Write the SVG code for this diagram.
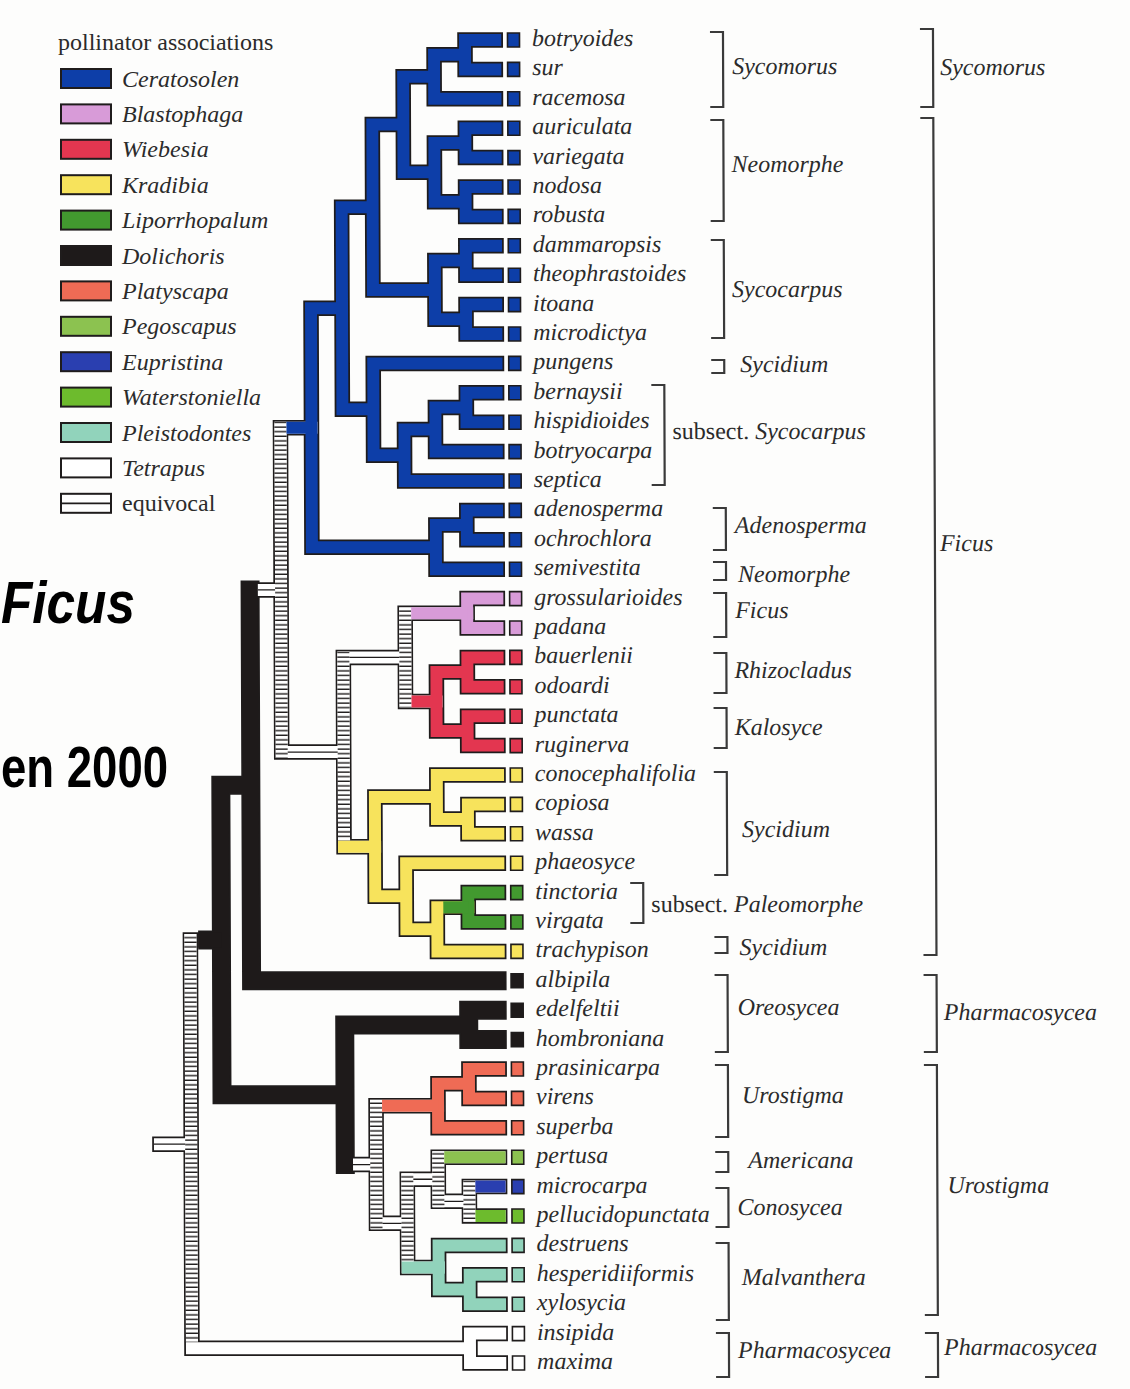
<svg xmlns="http://www.w3.org/2000/svg" width="1130" height="1389" viewBox="0 0 1130 1389">
<defs>
<pattern id="hatch" patternUnits="userSpaceOnUse" width="12" height="4.6">
<rect width="12" height="4.6" fill="#fff"/>
<rect y="3.2" width="12" height="1.4" fill="#1f1c1c"/>
</pattern>
</defs>
<style>
.o{fill:none;stroke:#1f1c1c;stroke-width:15.5;stroke-linecap:square;stroke-linejoin:miter}
.ob{fill:none;stroke:#1f1c1c;stroke-width:19;stroke-linecap:square;stroke-linejoin:miter}
.obb{fill:none;stroke:#1f1c1c;stroke-width:19;stroke-linecap:butt}
.f{fill:none;stroke-width:12;stroke-linecap:square;stroke-linejoin:miter}
.fb{fill:none;stroke:#1e1a1a;stroke-width:15.5;stroke-linecap:square;stroke-linejoin:miter}
.fbb{fill:none;stroke:#1e1a1a;stroke-width:15.5;stroke-linecap:butt}
.ov{fill:none;stroke-width:12;stroke-linecap:butt}
.mid{fill:none;stroke:#1f1c1c;stroke-width:1.3}
.hz{fill:url(#hatch)}
.w{stroke:#fff}
.s-ce{stroke:#0d3ea8}.s-bl{stroke:#d89bd8}.s-wi{stroke:#e33650}.s-kr{stroke:#f7e35c}.s-li{stroke:#42992f}
.s-pl{stroke:#ef6b55}.s-pe{stroke:#8cc250}.s-eu{stroke:#2a3fb0}.s-wa{stroke:#6dbb2d}.s-ps{stroke:#91d3bb}
.c-ce{fill:#0d3ea8}.c-bl{fill:#d89bd8}.c-wi{fill:#e33650}.c-kr{fill:#f7e35c}.c-li{fill:#42992f}.c-do{fill:#1e1a1a}
.c-pl{fill:#ef6b55}.c-pe{fill:#8cc250}.c-eu{fill:#2a3fb0}.c-wa{fill:#6dbb2d}.c-ps{fill:#91d3bb}.c-te{fill:#ffffff}
.bx{stroke:#1f1c1c;stroke-width:1.6}
.sw{stroke:#1f1c1c;stroke-width:2}
.sp,.lab,.lg{font-family:"Liberation Serif","Times New Roman",serif;font-style:italic;font-size:24px;fill:#2b2b2b}
.up{font-style:normal}
.br{fill:none;stroke:#3a3a3a;stroke-width:2.2}
.title{font-family:"Liberation Sans",Arial,sans-serif;font-weight:bold;fill:#000}
</style>
<rect width="1130" height="1389" fill="#fdfdfc"/>

<g id="legend">
<text class="lg up" x="58" y="50">pollinator associations</text>
<g id="lg-ceratosolen"><rect class="sw c-ce" x="61" y="69" width="50" height="19"/><text class="lg" x="122" y="86.5">Ceratosolen</text></g>
<g id="lg-blastophaga"><rect class="sw c-bl" x="61" y="104.4" width="50" height="19"/><text class="lg" x="122" y="121.9">Blastophaga</text></g>
<g id="lg-wiebesia"><rect class="sw c-wi" x="61" y="139.8" width="50" height="19"/><text class="lg" x="122" y="157.3">Wiebesia</text></g>
<g id="lg-kradibia"><rect class="sw c-kr" x="61" y="175.2" width="50" height="19"/><text class="lg" x="122" y="192.7">Kradibia</text></g>
<g id="lg-liporrhopalum"><rect class="sw c-li" x="61" y="210.6" width="50" height="19"/><text class="lg" x="122" y="228.1">Liporrhopalum</text></g>
<g id="lg-dolichoris"><rect class="sw c-do" x="61" y="246" width="50" height="19"/><text class="lg" x="122" y="263.5">Dolichoris</text></g>
<g id="lg-platyscapa"><rect class="sw c-pl" x="61" y="281.4" width="50" height="19"/><text class="lg" x="122" y="298.9">Platyscapa</text></g>
<g id="lg-pegoscapus"><rect class="sw c-pe" x="61" y="316.8" width="50" height="19"/><text class="lg" x="122" y="334.3">Pegoscapus</text></g>
<g id="lg-eupristina"><rect class="sw c-eu" x="61" y="352.2" width="50" height="19"/><text class="lg" x="122" y="369.7">Eupristina</text></g>
<g id="lg-waterstoniella"><rect class="sw c-wa" x="61" y="387.6" width="50" height="19"/><text class="lg" x="122" y="405.1">Waterstoniella</text></g>
<g id="lg-pleistodontes"><rect class="sw c-ps" x="61" y="423" width="50" height="19"/><text class="lg" x="122" y="440.5">Pleistodontes</text></g>
<g id="lg-tetrapus"><rect class="sw c-te" x="61" y="458.4" width="50" height="19"/><text class="lg" x="122" y="475.9">Tetrapus</text></g>
<g id="lg-equivocal"><rect class="sw c-te" x="61" y="493.8" width="50" height="19"/><path class="mid" d="M61 503.3H111" style="stroke-width:1.8"/><text class="lg up" x="122" y="511.3">equivocal</text></g>
</g>

<g id="title">
<text class="title" x="1" y="623" font-size="60" font-style="italic" textLength="134" lengthAdjust="spacingAndGlyphs">Ficus</text>
<text class="title" x="1" y="787" font-size="58" textLength="167" lengthAdjust="spacingAndGlyphs">en 2000</text>
</g>

<g id="figure" transform="matrix(1 0 0.0038 1 -0.15 0)">
<g id="connectors">
<g id="outlines">
<path class="o" d="M495.25 40H465V69.4H495.25M465 54.7H434V98.8H495.25M495.25 128.2H465V157.6H495.25M495.25 187H465V216.4H495.25M465 142.9H434V201.7H465M434 76.75H403V172.3H434M495.25 245.8H465V275.2H495.25M495.25 304.6H465V334H495.25M465 260.5H434V319.3H465M403 124.5H372V289.9H434M495.25 392.8H465V422.2H495.25M465 407.5H434V451.6H495.25M434 429.55H403V481H495.25M495.25 363.4H372V455.3H403M372 207.2H341V409.35H372M495.25 510.4H465V539.8H495.25M465 525.1H434V569.2H495.25M341 308.3H310V547.15H434M495.25 598.6H465V628H495.25M495.25 657.4H465V686.8H495.25M495.25 716.2H465V745.6H495.25M465 672.1H434V730.9H465M465 613.3H403V701.5H434M495.25 804.4H465V833.8H495.25M495.25 775H434V819.1H465M495.25 892.6H465V922H495.25M465 907.3H434V951.4H495.25M495.25 863.2H403V929.35H434M434 797.05H372V896.3H403M403 657.4H341V846.7H372M310 427.7H279V752.05H341M257.5 589.9H279M495.25 1069H465V1098.4H495.25M465 1083.7H434V1127.8H495.25M495.25 1186.6H465V1216H495.25M495.25 1157.2H434V1201.3H465M495.25 1274.8H465V1304.2H495.25M495.25 1245.4H434V1289.5H465M434 1179.25H403V1267.45H434M434 1105.75H372V1223.35H403M350 1164.55H372M495.25 1333.6H465V1363H495.25M187 940V1348.3H465M155.75 1144.15H187"/>
<path class="ob" d="M248 589.9V980.8H493.5M493.5 1010.2H465V1039.6H493.5M465 1024.9H341V1164.55M248 785.35H218V1094.7H341"/>
<path class="obb" d="M194.75 940H218"/>
</g>
<g id="fills">
<path class="f w" d="M465 613.3H403V701.5H434M403 657.4H341V846.7H372M310 427.7H279V752.05H341M257.5 589.9H279M495.25 1186.6H465V1216H495.25M495.25 1157.2H434V1201.3H465M434 1179.25H403V1267.45H434M434 1105.75H372V1223.35H403M350 1164.55H372M187 940V1348.3H465M155.75 1144.15H187M495.25 1333.6H465V1363H495.25"/>
<path class="f s-ce" d="M495.25 40H465V69.4H495.25M465 54.7H434V98.8H495.25M495.25 128.2H465V157.6H495.25M495.25 187H465V216.4H495.25M465 142.9H434V201.7H465M434 76.75H403V172.3H434M495.25 245.8H465V275.2H495.25M495.25 304.6H465V334H495.25M465 260.5H434V319.3H465M403 124.5H372V289.9H434M495.25 392.8H465V422.2H495.25M465 407.5H434V451.6H495.25M434 429.55H403V481H495.25M495.25 363.4H372V455.3H403M372 207.2H341V409.35H372M495.25 510.4H465V539.8H495.25M465 525.1H434V569.2H495.25M341 308.3H310V547.15H434"/>
<path class="f s-bl" d="M495.25 598.6H465V628H495.25"/>
<path class="f s-wi" d="M495.25 657.4H465V686.8H495.25M495.25 716.2H465V745.6H495.25M465 672.1H434V730.9H465"/>
<path class="f s-kr" d="M495.25 804.4H465V833.8H495.25M495.25 775H434V819.1H465M465 907.3H434V951.4H495.25M495.25 863.2H403V929.35H434M434 797.05H372V896.3H403"/>
<path class="f s-li" d="M495.25 892.6H465V922H495.25"/>
<path class="f s-pl" d="M495.25 1069H465V1098.4H495.25M465 1083.7H434V1127.8H495.25"/>
<path class="f s-ps" d="M495.25 1274.8H465V1304.2H495.25M495.25 1245.4H434V1289.5H465"/>
<path class="fb" d="M248 589.9V980.8H493.5M493.5 1010.2H465V1039.6H493.5M465 1024.9H341V1164.55M248 785.35H218V1094.7H341"/>
<path class="fbb" d="M194.75 940H218"/>
<g id="hatched">
<rect class="hz" x="273" y="421.7" width="12" height="336.35"/>
<rect class="hz" x="335" y="651.4" width="12" height="189.3"/>
<rect class="hz" x="397" y="607.3" width="12" height="100.2"/>
<rect class="hz" x="366" y="1099.75" width="12" height="129.6"/>
<rect class="hz" x="397" y="1173.25" width="12" height="88.2"/>
<rect class="hz" x="428" y="1151.2" width="12" height="56.1"/>
<rect class="hz" x="459" y="1180.6" width="12" height="41.4"/>
<rect class="hz" x="181" y="934" width="12" height="408.3"/>
<path class="mid" d="M347 657.4H397M285 752.05H335M255.75 589.9H273M348.75 1164.55H366M378 1223.35H397M409 1179.25H428M440 1201.3H459M149.75 1144.15H181"/>
</g>
<path class="ov s-bl" d="M409 613.3H465"/>
<path class="ov s-wi" d="M409 701.5H434"/>
<path class="ov s-ce" d="M285 427.7H310"/>
<path class="ov s-li" d="M440 907.3H465"/>
<path class="ov s-pl" d="M378 1105.75H434"/>
<path class="ov s-pe" d="M440 1157.2H501.25"/>
<path class="ov s-eu" d="M471 1186.6H501.25"/>
<path class="ov s-wa" d="M471 1216H501.25"/>
<path class="f s-kr" d="M341 846.7H372"/>
<path class="f s-ps" d="M403 1267.45H434"/>
</g>
</g>

<g id="taxa">
<g id="t-botryoides"><rect class="bx c-ce" x="507.5" y="33" width="12" height="14"/><text class="sp" x="532" y="46">botryoides</text></g>
<g id="t-sur"><rect class="bx c-ce" x="507.5" y="62.4" width="12" height="14"/><text class="sp" x="532" y="75.4">sur</text></g>
<g id="t-racemosa"><rect class="bx c-ce" x="507.5" y="91.8" width="12" height="14"/><text class="sp" x="532" y="104.8">racemosa</text></g>
<g id="t-auriculata"><rect class="bx c-ce" x="507.5" y="121.2" width="12" height="14"/><text class="sp" x="532" y="134.2">auriculata</text></g>
<g id="t-variegata"><rect class="bx c-ce" x="507.5" y="150.6" width="12" height="14"/><text class="sp" x="532" y="163.6">variegata</text></g>
<g id="t-nodosa"><rect class="bx c-ce" x="507.5" y="180" width="12" height="14"/><text class="sp" x="532" y="193">nodosa</text></g>
<g id="t-robusta"><rect class="bx c-ce" x="507.5" y="209.4" width="12" height="14"/><text class="sp" x="532" y="222.4">robusta</text></g>
<g id="t-dammaropsis"><rect class="bx c-ce" x="507.5" y="238.8" width="12" height="14"/><text class="sp" x="532" y="251.8">dammaropsis</text></g>
<g id="t-theophrastoides"><rect class="bx c-ce" x="507.5" y="268.2" width="12" height="14"/><text class="sp" x="532" y="281.2">theophrastoides</text></g>
<g id="t-itoana"><rect class="bx c-ce" x="507.5" y="297.6" width="12" height="14"/><text class="sp" x="532" y="310.6">itoana</text></g>
<g id="t-microdictya"><rect class="bx c-ce" x="507.5" y="327" width="12" height="14"/><text class="sp" x="532" y="340">microdictya</text></g>
<g id="t-pungens"><rect class="bx c-ce" x="507.5" y="356.4" width="12" height="14"/><text class="sp" x="532" y="369.4">pungens</text></g>
<g id="t-bernaysii"><rect class="bx c-ce" x="507.5" y="385.8" width="12" height="14"/><text class="sp" x="532" y="398.8">bernaysii</text></g>
<g id="t-hispidioides"><rect class="bx c-ce" x="507.5" y="415.2" width="12" height="14"/><text class="sp" x="532" y="428.2">hispidioides</text></g>
<g id="t-botryocarpa"><rect class="bx c-ce" x="507.5" y="444.6" width="12" height="14"/><text class="sp" x="532" y="457.6">botryocarpa</text></g>
<g id="t-septica"><rect class="bx c-ce" x="507.5" y="474" width="12" height="14"/><text class="sp" x="532" y="487">septica</text></g>
<g id="t-adenosperma"><rect class="bx c-ce" x="507.5" y="503.4" width="12" height="14"/><text class="sp" x="532" y="516.4">adenosperma</text></g>
<g id="t-ochrochlora"><rect class="bx c-ce" x="507.5" y="532.8" width="12" height="14"/><text class="sp" x="532" y="545.8">ochrochlora</text></g>
<g id="t-semivestita"><rect class="bx c-ce" x="507.5" y="562.2" width="12" height="14"/><text class="sp" x="532" y="575.2">semivestita</text></g>
<g id="t-grossularioides"><rect class="bx c-bl" x="507.5" y="591.6" width="12" height="14"/><text class="sp" x="532" y="604.6">grossularioides</text></g>
<g id="t-padana"><rect class="bx c-bl" x="507.5" y="621" width="12" height="14"/><text class="sp" x="532" y="634">padana</text></g>
<g id="t-bauerlenii"><rect class="bx c-wi" x="507.5" y="650.4" width="12" height="14"/><text class="sp" x="532" y="663.4">bauerlenii</text></g>
<g id="t-odoardi"><rect class="bx c-wi" x="507.5" y="679.8" width="12" height="14"/><text class="sp" x="532" y="692.8">odoardi</text></g>
<g id="t-punctata"><rect class="bx c-wi" x="507.5" y="709.2" width="12" height="14"/><text class="sp" x="532" y="722.2">punctata</text></g>
<g id="t-ruginerva"><rect class="bx c-wi" x="507.5" y="738.6" width="12" height="14"/><text class="sp" x="532" y="751.6">ruginerva</text></g>
<g id="t-conocephalifolia"><rect class="bx c-kr" x="507.5" y="768" width="12" height="14"/><text class="sp" x="532" y="781">conocephalifolia</text></g>
<g id="t-copiosa"><rect class="bx c-kr" x="507.5" y="797.4" width="12" height="14"/><text class="sp" x="532" y="810.4">copiosa</text></g>
<g id="t-wassa"><rect class="bx c-kr" x="507.5" y="826.8" width="12" height="14"/><text class="sp" x="532" y="839.8">wassa</text></g>
<g id="t-phaeosyce"><rect class="bx c-kr" x="507.5" y="856.2" width="12" height="14"/><text class="sp" x="532" y="869.2">phaeosyce</text></g>
<g id="t-tinctoria"><rect class="bx c-li" x="507.5" y="885.6" width="12" height="14"/><text class="sp" x="532" y="898.6">tinctoria</text></g>
<g id="t-virgata"><rect class="bx c-li" x="507.5" y="915" width="12" height="14"/><text class="sp" x="532" y="928">virgata</text></g>
<g id="t-trachypison"><rect class="bx c-kr" x="507.5" y="944.4" width="12" height="14"/><text class="sp" x="532" y="957.4">trachypison</text></g>
<g id="t-albipila"><rect class="bx c-do" x="507.5" y="973.8" width="12" height="14"/><text class="sp" x="532" y="986.8">albipila</text></g>
<g id="t-edelfeltii"><rect class="bx c-do" x="507.5" y="1003.2" width="12" height="14"/><text class="sp" x="532" y="1016.2">edelfeltii</text></g>
<g id="t-hombroniana"><rect class="bx c-do" x="507.5" y="1032.6" width="12" height="14"/><text class="sp" x="532" y="1045.6">hombroniana</text></g>
<g id="t-prasinicarpa"><rect class="bx c-pl" x="507.5" y="1062" width="12" height="14"/><text class="sp" x="532" y="1075">prasinicarpa</text></g>
<g id="t-virens"><rect class="bx c-pl" x="507.5" y="1091.4" width="12" height="14"/><text class="sp" x="532" y="1104.4">virens</text></g>
<g id="t-superba"><rect class="bx c-pl" x="507.5" y="1120.8" width="12" height="14"/><text class="sp" x="532" y="1133.8">superba</text></g>
<g id="t-pertusa"><rect class="bx c-pe" x="507.5" y="1150.2" width="12" height="14"/><text class="sp" x="532" y="1163.2">pertusa</text></g>
<g id="t-microcarpa"><rect class="bx c-eu" x="507.5" y="1179.6" width="12" height="14"/><text class="sp" x="532" y="1192.6">microcarpa</text></g>
<g id="t-pellucidopunctata"><rect class="bx c-wa" x="507.5" y="1209" width="12" height="14"/><text class="sp" x="532" y="1222">pellucidopunctata</text></g>
<g id="t-destruens"><rect class="bx c-ps" x="507.5" y="1238.4" width="12" height="14"/><text class="sp" x="532" y="1251.4">destruens</text></g>
<g id="t-hesperidiiformis"><rect class="bx c-ps" x="507.5" y="1267.8" width="12" height="14"/><text class="sp" x="532" y="1280.8">hesperidiiformis</text></g>
<g id="t-xylosycia"><rect class="bx c-ps" x="507.5" y="1297.2" width="12" height="14"/><text class="sp" x="532" y="1310.2">xylosycia</text></g>
<g id="t-insipida"><rect class="bx c-te" x="507.5" y="1326.6" width="12" height="14"/><text class="sp" x="532" y="1339.6">insipida</text></g>
<g id="t-maxima"><rect class="bx c-te" x="507.5" y="1356" width="12" height="14"/><text class="sp" x="532" y="1369">maxima</text></g>
</g>

<g id="sections">
<g id="s-sycomorus"><path class="br" d="M710 32H723V107H710"/><text class="lab" x="732" y="74">Sycomorus</text></g>
<g id="s-neomorphe1"><path class="br" d="M710 120H723V221H710"/><text class="lab" x="731" y="172">Neomorphe</text></g>
<g id="s-sycocarpus"><path class="br" d="M710 240H723V338H710"/><text class="lab" x="731" y="297">Sycocarpus</text></g>
<g id="s-sycidium1"><path class="br" d="M710 360H723V373H710"/><text class="lab" x="739" y="372">Sycidium</text></g>
<g id="s-subsect-sycocarpus"><path class="br" d="M650 385H663V485H650"/><text class="lab" x="671" y="439"><tspan class="up">subsect.</tspan> Sycocarpus</text></g>
<g id="s-adenosperma"><path class="br" d="M711 508H724V550H711"/><text class="lab" x="733" y="533">Adenosperma</text></g>
<g id="s-neomorphe2"><path class="br" d="M711 562H724V580H711"/><text class="lab" x="736" y="582">Neomorphe</text></g>
<g id="s-ficus"><path class="br" d="M711 593H724V637H711"/><text class="lab" x="733" y="618">Ficus</text></g>
<g id="s-rhizocladus"><path class="br" d="M711 653H724V693H711"/><text class="lab" x="732" y="678">Rhizocladus</text></g>
<g id="s-kalosyce"><path class="br" d="M711 708H724V748H711"/><text class="lab" x="732" y="735">Kalosyce</text></g>
<g id="s-sycidium2"><path class="br" d="M711 772H724V875H711"/><text class="lab" x="739" y="837">Sycidium</text></g>
<g id="s-subsect-paleomorphe"><path class="br" d="M627 883H640V923H627"/><text class="lab" x="648" y="912"><tspan class="up">subsect.</tspan> Paleomorphe</text></g>
<g id="s-sycidium3"><path class="br" d="M711 937H724V953H711"/><text class="lab" x="736" y="955">Sycidium</text></g>
<g id="s-oreosycea"><path class="br" d="M711 975H724V1052H711"/><text class="lab" x="734" y="1015">Oreosycea</text></g>
<g id="s-urostigma"><path class="br" d="M711 1065H724V1137H711"/><text class="lab" x="738" y="1103">Urostigma</text></g>
<g id="s-americana"><path class="br" d="M711 1152H724V1172H711"/><text class="lab" x="744" y="1168">Americana</text></g>
<g id="s-conosycea"><path class="br" d="M711 1188H724V1227H711"/><text class="lab" x="733" y="1215">Conosycea</text></g>
<g id="s-malvanthera"><path class="br" d="M711 1243H724V1320H711"/><text class="lab" x="737" y="1285">Malvanthera</text></g>
<g id="s-pharmacosycea"><path class="br" d="M711 1333H724V1377H711"/><text class="lab" x="733" y="1358">Pharmacosycea</text></g>
</g>

<g id="subgenera">
<g id="g-sycomorus"><path class="br" d="M920 29H933V107H920"/><text class="lab" x="940" y="75">Sycomorus</text></g>
<g id="g-ficus"><path class="br" d="M920 118H933V955H920"/><text class="lab" x="938" y="551">Ficus</text></g>
<g id="g-pharmacosycea1"><path class="br" d="M920 975H933V1052H920"/><text class="lab" x="940" y="1020">Pharmacosycea</text></g>
<g id="g-urostigma"><path class="br" d="M920 1065H933V1315H920"/><text class="lab" x="943" y="1193">Urostigma</text></g>
<g id="g-pharmacosycea2"><path class="br" d="M920 1333H933V1377H920"/><text class="lab" x="939" y="1355">Pharmacosycea</text></g>
</g>
</g>
</svg>
